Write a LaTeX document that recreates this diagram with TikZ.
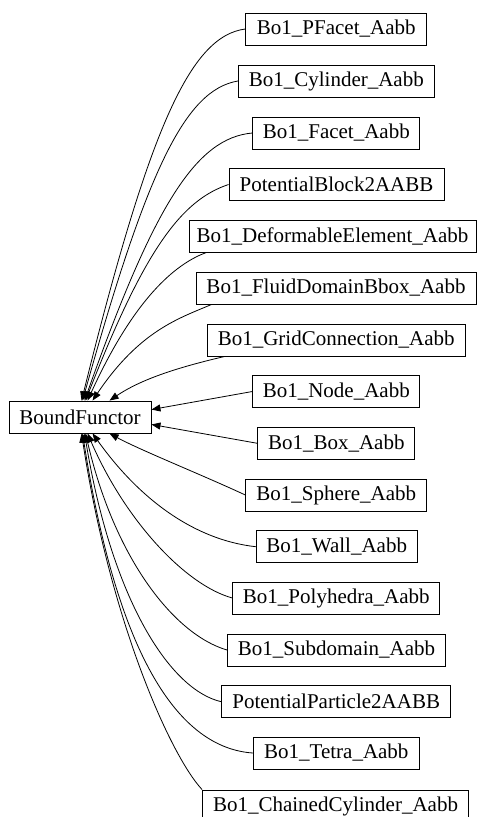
\documentclass[tikz,border=0pt]{standalone}
\usepackage{fontspec}
\setmainfont{Liberation Serif}
\usetikzlibrary{arrows.meta,calc}
\begin{document}
\begin{tikzpicture}[x=1pt,y=-1pt,
  box/.style={draw=black,line width=0.9pt,rectangle,inner sep=0pt,minimum height=32pt,
    font=\fontsize{21}{25}\selectfont},
  edge/.style={draw=black,line width=0.8pt,-{Triangle[length=9pt,width=7pt]}}]
\useasboundingbox (0,0) rectangle (478,817);
\node[box,minimum width=142pt] (bf) at (80,417) {BoundFunctor};
\node[box,minimum width=181pt] (pf) at (336.3,29) {Bo1\_PFacet\_Aabb};
\node[box,minimum width=196pt] (cy) at (336.3,81) {Bo1\_Cylinder\_Aabb};
\node[box,minimum width=167pt] (fa) at (336.3,133) {Bo1\_Facet\_Aabb};
\node[box,minimum width=215pt] (pb) at (336.5,184.5) {PotentialBlock2AABB};
\node[box,minimum width=287pt] (de) at (332.5,236) {Bo1\_DeformableElement\_Aabb};
\node[box,minimum width=280pt] (fl) at (336,288) {Bo1\_FluidDomainBbox\_Aabb};
\node[box,minimum width=258pt] (gc) at (336.2,340) {Bo1\_GridConnection\_Aabb};
\node[box,minimum width=167pt] (no) at (336.3,391.5) {Bo1\_Node\_Aabb};
\node[box,minimum width=157pt] (bx) at (336.3,443.3) {Bo1\_Box\_Aabb};
\node[box,minimum width=181pt] (sp) at (336.3,495) {Bo1\_Sphere\_Aabb};
\node[box,minimum width=161pt] (wa) at (336.7,546.7) {Bo1\_Wall\_Aabb};
\node[box,minimum width=207pt] (po) at (336.3,598) {Bo1\_Polyhedra\_Aabb};
\node[box,minimum width=218pt] (sd) at (336.5,650) {Bo1\_Subdomain\_Aabb};
\node[box,minimum width=229pt] (pp) at (336.2,701.7) {PotentialParticle2AABB};
\node[box,minimum width=166pt] (te) at (336.3,753) {Bo1\_Tetra\_Aabb};
\node[box,minimum width=266pt] (cc) at (335.5,806) {Bo1\_ChainedCylinder\_Aabb};
% top edges
\draw[edge] (pf.west) .. controls (190,36) and (149,129) .. ($(bf.north west)+(73,0)$);
\draw[edge] (cy.west) .. controls (185,90) and (147,170) .. ($(bf.north west)+(74,0)$);
\draw[edge] (fa.west) .. controls (196,138) and (154,205) .. ($(bf.north west)+(76,0)$);
\draw[edge] (pb.west) .. controls (182,200) and (145,248) .. ($(bf.north west)+(77,0)$);
\draw[edge] ($(de.south west)+(18,0)$) .. controls (180,262) and (137,292) .. ($(bf.north west)+(79,0)$);
\draw[edge] ($(fl.south west)+(16,0)$) .. controls (180,318) and (140,330) .. ($(bf.north west)+(84,0)$);
\draw[edge] ($(gc.south west)+(18,0)$) .. controls (175,368) and (140,380) .. ($(bf.north west)+(101,0)$);
% side edges
\draw[edge] (no.west) -- ($(bf.north east)+(0,9)$);
\draw[edge] (bx.west) -- ($(bf.south east)+(0,-9)$);
% bottom edges
\draw[edge] (sp.west) .. controls (200,474) and (140,450) .. ($(bf.south west)+(101,0)$);
\draw[edge] (wa.west) .. controls (195,540) and (140,500) .. ($(bf.south west)+(84,0)$);
\draw[edge] (po.west) .. controls (185,585) and (125,520) .. ($(bf.south west)+(79,0)$);
\draw[edge] (sd.west) .. controls (175,635) and (115,560) .. ($(bf.south west)+(77,0)$);
\draw[edge] (pp.west) .. controls (170,690) and (112,600) .. ($(bf.south west)+(76,0)$);
\draw[edge] (te.west) .. controls (180,748) and (118,660) .. ($(bf.south west)+(74,0)$);
\draw[edge] (cc.north west) .. controls (170,755) and (110,620) .. ($(bf.south west)+(73,0)$);
\end{tikzpicture}
\end{document}
